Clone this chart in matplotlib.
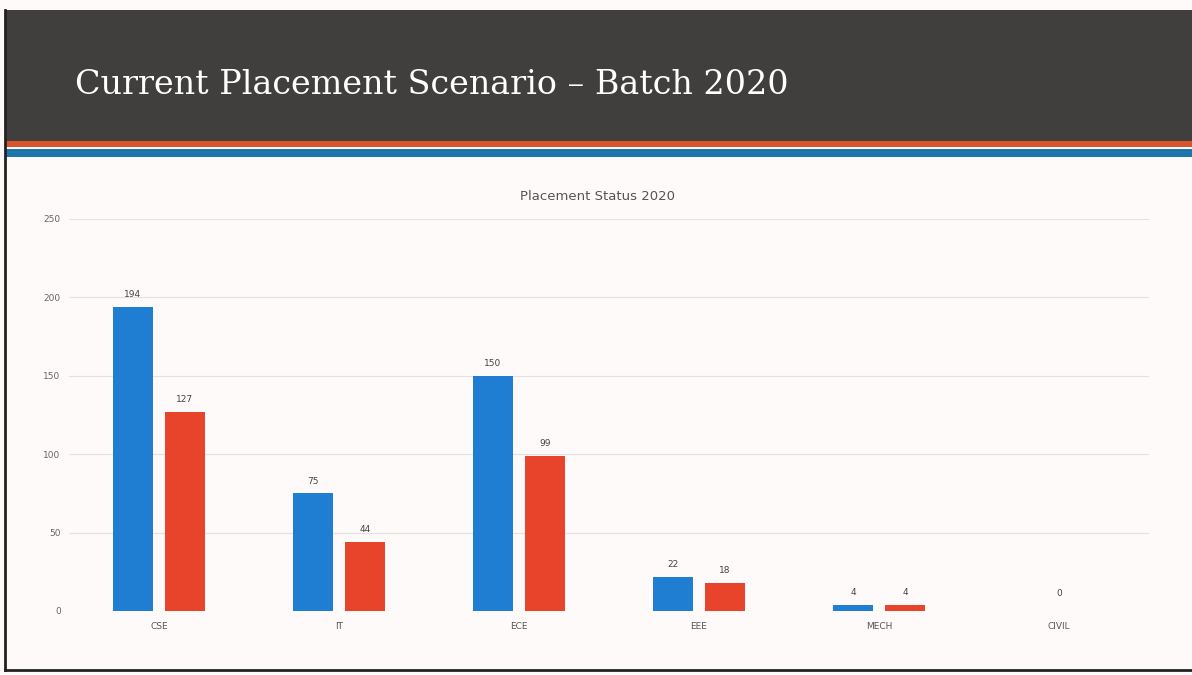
"Placement status slide, batch 2020"

import matplotlib.pyplot as plt
from matplotlib.patches import Rectangle
import numpy as np

branches = ["CSE", "IT", "ECE", "EEE", "MECH", "CIVIL"]
eligible = [194, 75, 150, 22, 4, 0]
placed = [127, 44, 99, 18, 4, 0]
yticks = [0, 50, 100, 150, 200, 250]

BLUE = "#1f7ed2"
RED = "#e8432b"
W, H = 1192, 675


def px(x0, y0, w, h):
    "pixel box (top-left origin) to figure coords"
    return [x0 / W, 1 - (y0 + h) / H, w / W, h / H]


fig = plt.figure(figsize=(W / 100, H / 100), dpi=100)
fig.patch.set_facecolor("#fffafa")

# header band and stripes
fig.patches.append(Rectangle((5 / W, 1 - 141 / H), 1, 131 / H, transform=fig.transFigure,
                             facecolor="#403f3d", edgecolor="none"))
fig.patches.append(Rectangle((5 / W, 1 - 147 / H), 1, 6 / H, transform=fig.transFigure,
                             facecolor="#d9542c", edgecolor="none"))
fig.patches.append(Rectangle((5 / W, 1 - 157 / H), 1, 8 / H, transform=fig.transFigure,
                             facecolor="#1c77a8", edgecolor="none"))
# slide border
fig.lines.append(plt.Line2D([5 / W, 5 / W], [1 - 10 / H, 1 - 670 / H],
                            transform=fig.transFigure, color="#222222", lw=2))
fig.lines.append(plt.Line2D([5 / W, 1], [1 - 670 / H, 1 - 670 / H],
                            transform=fig.transFigure, color="#222222", lw=2))

fig.text(75 / W, 1 - 85 / H, "Current Placement Scenario \u2013 Batch 2020",
         family="DejaVu Serif", fontsize=24, color="white", va="center", ha="left")
fig.text(597 / W, 1 - 197 / H, "Placement Status 2020", fontsize=9.5,
         color="#555555", ha="center", va="center")

ax = fig.add_axes(px(69, 219, 1080, 392))
ax.set_facecolor("none")
x = np.arange(len(branches))
bw = 0.222
gap = 0.067
b1 = ax.bar(x - (bw + gap) / 2, eligible, bw, color=BLUE)
b2 = ax.bar(x + (bw + gap) / 2, placed, bw, color=RED)

for bars, vals in ((b1, eligible), (b2, placed)):
    for rect, v in zip(bars, vals):
        if v == 0:
            continue
        ax.text(rect.get_x() + rect.get_width() / 2, v + 5, str(v),
                ha="center", va="bottom", fontsize=6.5, color="#444444")
# zero label for CIVIL sits between the two slots
ax.text(x[-1], 8, "0", ha="center", va="bottom", fontsize=6.5, color="#444444")

ax.set_xlim(-0.5, 5.5)
ax.set_ylim(0, 250)
ax.set_yticks(yticks)
ax.set_xticks(x)
ax.set_xticklabels(branches)
ax.tick_params(axis="x", length=0, labelsize=6.5, colors="#555555", pad=8)
ax.tick_params(axis="y", length=0, labelsize=6.5, colors="#666666", pad=6)
ax.yaxis.grid(True, color="#e6e0e0", lw=0.8)
ax.set_axisbelow(True)
for s in ax.spines.values():
    s.set_visible(False)

plt.savefig("out.png", dpi=100, facecolor=fig.get_facecolor())
